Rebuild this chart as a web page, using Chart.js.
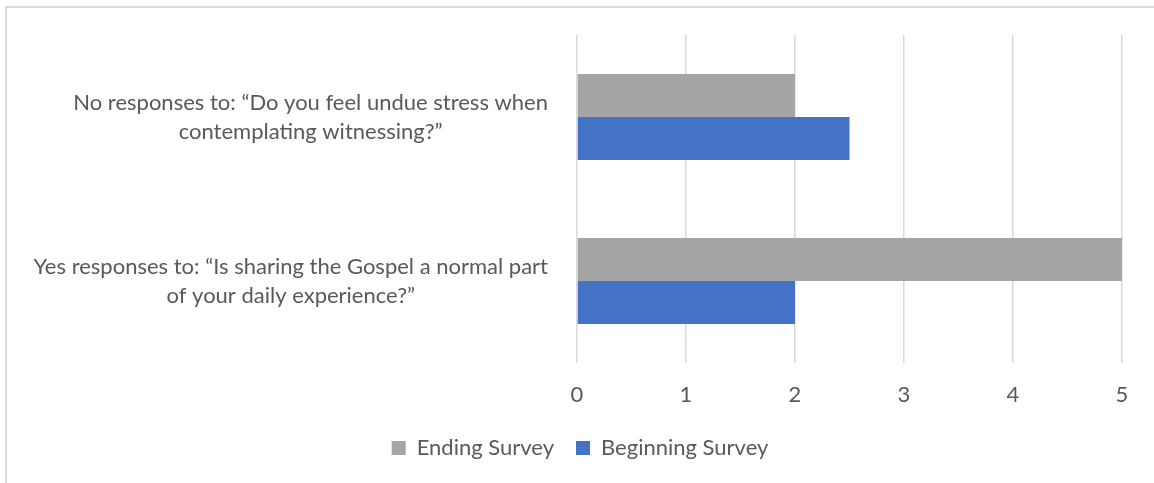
<!DOCTYPE html>
<html>
<head>
<meta charset="utf-8">
<script src="https://cdn.jsdelivr.net/npm/chart.js@4.4.1/dist/chart.umd.min.js"></script>
<style>
  html, body { margin: 0; padding: 0; background: #fff; overflow: hidden; }
  #frame { position: absolute; left: 5px; top: 6px; width: 1160px; height: 490px;
           border-left: 2px solid #dcdcdc; border-top: 2px solid #dcdcdc; }
  #wrap { position: absolute; left: 0; top: 0; width: 1154px; height: 483px; }
</style>
</head>
<body>
<div id="frame"></div>
<div id="wrap"><canvas id="survey-chart"></canvas></div>
<script>
/* survey answers, start vs end of the program */
const questionLabels = [
    ['No responses to: \u201cDo you feel undue stress when', 'contemplating witnessing?\u201d'],
    ['Yes responses to: \u201cIs sharing the Gospel a normal part', 'of your daily experience?\u201d']
];
const endingSurvey = [2, 5];
const beginningSurvey = [2.5, 2];
const xTicks = [0, 1, 2, 3, 4, 5];

const textColor = '#595959';
const fontFamily = 'Lato, "Open Sans", sans-serif';
const fontSize = 22;

// category labels: each block centred on itself, right edge against the axis
const questionLabelPlugin = {
    id: 'questionLabels',
    afterDraw(chart) {
        const ctx = chart.ctx;
        const yScale = chart.scales.y;
        const rightEdge = chart.chartArea.left - 29;
        const lineGap = 29;
        ctx.save();
        ctx.font = fontSize + 'px ' + fontFamily;
        ctx.fillStyle = textColor;
        ctx.textAlign = 'center';
        ctx.textBaseline = 'middle';
        questionLabels.forEach(function(lines, i) {
            const cy = yScale.getPixelForTick(i);
            const widest = Math.max.apply(null, lines.map(l => ctx.measureText(l).width));
            const cx = rightEdge - widest / 2;
            const startY = cy - (lines.length - 1) * lineGap / 2;
            lines.forEach(function(line, j) {
                ctx.fillText(line, cx, startY + j * lineGap);
            });
        });
        ctx.restore();
    }
};

const ctx_survey = document.getElementById('survey-chart').getContext('2d');
const surveyChart = new Chart(ctx_survey, {
    type: 'bar',
    data: {
        labels: questionLabels,
        datasets: [{
            label: 'Ending Survey',
            data: endingSurvey,
            backgroundColor: '#A5A5A5',
            categoryPercentage: 0.525,
            barPercentage: 1.0
        }, {
            label: 'Beginning Survey',
            data: beginningSurvey,
            backgroundColor: '#4472C4',
            categoryPercentage: 0.525,
            barPercentage: 1.0
        }]
    },
    plugins: [questionLabelPlugin],
    options: {
        indexAxis: 'y',
        responsive: true,
        maintainAspectRatio: false,
        animation: false,
        layout: {
            // left/right padding also sets where the legend row is centred
            padding: { top: 35, right: 32, left: 38, bottom: 14 }
        },
        scales: {
            x: {
                min: 0,
                max: 5,
                afterBuildTicks: function(scale) {
                    scale.ticks = xTicks.map(v => ({ value: v }));
                },
                afterFit: function(scale) { scale.height = 52; },
                grid: { color: '#D9D9D9', lineWidth: 1.5, drawTicks: false },
                border: { display: false },
                ticks: {
                    padding: 19,
                    color: textColor,
                    font: { family: fontFamily, size: fontSize }
                }
            },
            y: {
                afterFit: function(scale) { scale.width = 539; },
                grid: { display: false },
                border: { display: false },
                ticks: { display: false }
            }
        },
        plugins: {
            legend: {
                position: 'bottom',
                labels: {
                    boxWidth: 14,
                    boxHeight: 14,
                    padding: 22,
                    color: textColor,
                    font: { family: fontFamily, size: fontSize }
                }
            },
            tooltip: { enabled: false }
        }
    }
});
</script>
</body>
</html>
